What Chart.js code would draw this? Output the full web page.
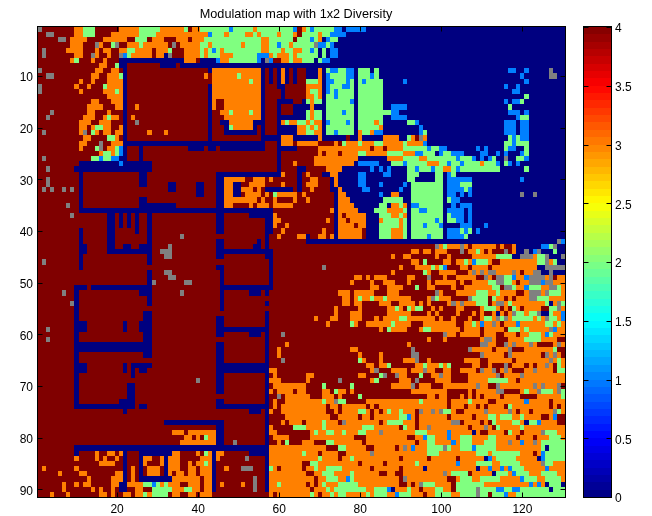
<!DOCTYPE html>
<html><head><meta charset="utf-8">
<script src="https://cdn.jsdelivr.net/npm/chart.js@4"></script>
<style>html,body{margin:0;padding:0;background:#fff}#w{position:relative;width:652px;height:516px}canvas{position:absolute;left:0;top:0}</style>
</head><body><div id="w"><canvas id="map" width="652" height="516"></canvas><canvas id="bar" width="652" height="516"></canvas></div>
<script>
const chartTitle = "Modulation map with 1x2 Diversity";
const xTicks = [20,40,60,80,100,120];
const yTicks = [10,20,30,40,50,60,70,80,90];
const barTicks = [0,0.5,1,1.5,2,2.5,3,3.5,4];
const barLabels = ["0","0.5","1","1.5","2","2.5","3","3.5","4"];
const columnCount = 130;
const letterValues = {D:4,O:3,G:2,L:1,B:0};
const noDataColor = "#808080";
// One entry per map row. Cells are 4 (D) unless a token paints a column range with another level; X = no data.
const rows = [
"X1 O10-11 G12-14 O21-25 G26-30 O31-36 G37 O39-40 G41-47 L48 G49-53 O54 G55-63 L64 O66 G67 L68 G69-73 L74-75 B76 L77-81 B82-130",
"X3-4 O10-11 G12-14 O19-25 G26-29 O30-42 L43 G44-46 O47 G48-51 O52-53 G54 O55 G56-59 O60 G61-63 O64 G66-69 O70 G71-72 L73-76 B77-130",
"X6-7 O9-12 O17-22 G25-27 O29-31 O35-37 O39-41 G42-55 O56-57 G58-63 G65-67 L68 G69 O70 B71 L72 G73-74 B75-130",
"O9-11 X15 O16 G19 X20 O23-25 G26 O27-32 X34 O36-40 G41-42 O43 G44-50 O51 G52-55 O56-57 G58-59 L60 G61-62 O63 G64-68 X69 L70-71 G72 L73 B74-130",
"X2 O8-11 O15 O17-18 O21-22 G23-24 O25-28 O30-32 G33 O37-40 G41 O42 G43 L44 G45 O46 G47-55 O56-57 G58-60 O61 G62-63 O64-65 G66-67 L68 G69 B70 G71 B72 L73-74 B75-130",
"X2 O10-11 X14 O15 O18 X21 L22 G23 O24-28 O30-31 B32 X33 O37-40 G41 O42 G43-45 O46-48 G49-54 L55-57 O58 G59 O60-62 G63 O64 G65-69 B70 G71 B72 L73-74 B75-130",
"O9 G10 O14 O17 B21-36 O37-39 B41-44 L45 O46-47 G48-54 L55 B56 X57 L58 O61-62 G63 O64-65 G66-68 B69 G70 L71-72 B73-130",
"O16-17 G20 B21-22 B31-34 B36-130",
"X1 O15-16 O19-20 B22 B43 O44-55 B56 B58 B60 O61 B62 B64 B67-130 O70 G72 L73-74 G75-76 L77-78 G80-82 G84 L117-118 L121 X127",
"X3-4 O14-15 O18-20 G21 B22 O42 O44-55 G50 B56 B58 B60 O61 B62 B64 B67-130 O70 L72 G73-76 L77-78 G80-82 L83 G84 L120 X127-128",
"O11 O14 O18-21 B22 O44-55 G53 B56 B58 B60 O61 B62 B64 B67-130 G67-69 O70 L72-73 G74-76 L77 G78 G80 L81 G82-85 L91 L121",
"X1 O10 O13 G17 O18-21 B22 B43 O44-55 B56 B60-61 B67-130 O67-70 L72 G73-75 L76-77 G78 G80-85 L116 L119",
"X1 O11 O17-19 G20 O21 B22 B43 O44-55 B56 B61 B67-130 O67 G68-69 O70 L72 G73 L74 G75-78 G80-85 L118-119",
"O18-21 B22 B43 O44-55 B56 B61 B67-130 O67-68 G69 O70 G72-73 L74 G75-78 G80-85 G121",
"O14-15 O19-21 B22 B43 O44 O47-55 B56 B60-63 B66-130 G67 O68 G69-70 G72-77 L78 G80-85 L116 L118-119 G120",
"O13-16 O20-21 B22 O25 B43 O44 O47-55 B56 B60 B64-130 O68 G72-78 G80-85 L88-91 G117",
"X4 O13-14 O18 B22 B43 O46-47 G48 O49-52 G53 O54-55 B56 B60 B64-130 G67 O68 G69-70 G72-75 L76 G77-78 G80-85 G86-87 L88-89 L117-119 L121",
"X3 O12-14 O17 G18 O19-20 B22 O24 B43 O47-55 B56 B60-130 G67 O68 G69-70 G72-78 G80-85 L88-91 L119 G120-121",
"O11-13 O16-18 B22 X25 B43 B46-47 O48-53 B54-56 B60 O61 G62 O63-64 G65-66 O67 G68 O69-70 B71 L72 G73-76 L77 G78 B79 G80-83 O84 G85 B86-130 G92-93 L94 L116-118 L120-121",
"O11-12 O14 G15-16 O17-18 O21 B22 B43 B47 G48 O49-53 B54 B56 B60-64 O65-66 G67 O68 G69 O70 B71 G72-78 B79 G80-84 O85 B86-130 L95 L116-118 L120-121",
"X2 O11 X12 G14 O15 O17-18 O20-21 B22 O28 O32 B43 B47-54 B56 B60-64 O65-66 G67-68 O69-70 B71 G72-73 L74 G75-78 B79 O80 G81-82 O83 L84-85 B86-130 L95 G96 L116-118 L120-121",
"O12-13 G18-19 O20 B22 B43 B56-60 O61-63 B64-69 O70 B71-76 B78-79 O80 B81-85 O86-89 B90-91 G92 O93 X95 O96 B97-130 G117 L118 G119 L120-121",
"O11-12 X16 O19-21 B22-56 B60 O61-63 O65-69 O74 G76 O77-79 G80 O81-83 G84-85 O86-90 G91 O92-95 L96 B97-130 G116-117 L118 G119-121",
"O11 G15 X16 O18-19 G20 L21 B22 B26 B38-41 B43-44 B46-56 B60-64 O70-82 O84-85 O87-90 G91-96 L97 G98-99 L100-101 B102-130 L109 L111 G116 L117-118 G121",
"O16 G17-18 O19 G20 L21 B22 B26 B60 O70 O72-74 O76-79 G80-81 O82-86 G87-90 O91-93 L94-95 G96-98 B99-130 L100 G101-102 L103-105 L110-111 L114 L116 L120 G121",
"X2 G14-15 L16 G17-18 L19-20 B21-22 B26 B60 O69-79 B80-86 O87-90 G91-94 O95-96 G97-103 L104 G105-107 L108 B109-130 L110 L112 G113 X116 G119-120 L121",
"B11-28 L21 B60 O64 O69-78 B79-130 L80-84 G88-90 L91 G92-96 O97-99 G100-101 L102 G103-104 L105 G106-109 O110 G111-113 L114 G116 L117 L119",
"X3 B10-28 B60 B65-66 O72-75 B76-130 L83 L85 L87 G92-93 L94 G95-97 L98 G99-100 O101-102 G103 L104 G105-114 G121",
"B11 B26-27 B45-60 O61 B65 O67 B71-72 O73-74 B75-130 L80-81 L86-87 G92-94 G99-100 L102 G103",
"X3 B11 B26-27 B45-46 O47-51 O54-56 O58 B65 O68-69 B73 O74 B75-130 L80-81 G92-93 G99-100 L102-105 L106-107 L120",
"X3 B11 B26-27 B33-34 B40-41 B45-46 O47-48 B49-50 O53-56 O61 B65 O67-69 B73 O74 B75-130 L80-81 L85 L91 G93-100 L102-104 G105-107",
"X2 X4 X7 X9 B11 B33-34 B40-41 B45-46 O47-48 B49-50 O51-53 O55 B57-63 B65 O68 B73-74 O75 B76-130 L81-82 L90 G93-100 L102-105 G106 L107",
"B11 B40-41 B45-46 O47-48 B49-50 O52-55 O57 G59 O60-64 O66 B74 O75-76 B77-130 L85 O88-89 G93-100 L102-103 L105 L107 X120 X123",
"B11 B26-27 B45-46 O47-54 O56 O59 O64 O67 B74 O75-77 B78-130 G86-90 G93-100 G102 L103-104",
"X8 B11 B26-34 B45-46 O47-48 O53 O55-57 O59-63 B74 O75-78 B79-130 G85-86 O88-89 G90 O91 L93-94 G95-100 L103 L105-107",
"B11-58 O73 B74 O75-79 B80-83 G84-86 O87-90 G91 B92 G93-94 L95-96 G97-100 B101-130 L102-105 L107",
"X9 B18-19 B21 B23 B25 B28 B45-46 B53-58 O59 B74 O75 O77-81 B82-84 G85-87 O88-89 G90 O91 B92 G93-100 B101-130 G102 L103-105 L107",
"B18-19 B21 B23 B25 B28 B45-46 B57-58 O59-60 O72 B74 O75-76 O78-81 B82-84 O85 G86-89 O90 G91 B92 G93-98 L99 G100 B101-130 G102-103 L104-105 L107",
"B18-19 B21 B23 B25 B28 B45-46 B57-58 O59 O62 B74 O75-78 O80-81 B82-84 G85-89 O90 G91 B92 G93-95 L96 G97-99 L100 B101-130 L105-107 L111",
"B11 B18-19 B25 B28 B45-46 B57-58 O61 O71 B74 O75-80 B82-84 G85-87 O88-90 G91 B92 G93-100 B101-130 L102-104 G105 L106 G107 L109",
"B11 B18-19 B28 X36 B57 O60 O65-66 B67 O70-71 O73 B74 O75-80 B82-84 G85-87 O88-90 G91 B92 G93-96 L97 G98-100 B101-130 L102-105 G106",
"B11 B18-19 B28 B45-46 B55 B57 B67-130 X129 L130",
"B11-12 B18-19 B22-23 B26-28 X33 B45-46 B54-55 B57 X99 O100 G101 O102-104 X105 O106 O108-113 O115 O118 B119-124 L125-126 G127 X128 B129-130",
"B11-12 B18-28 X31-33 B45-58 O93-94 O96-97 O99-101 X105 O107-108 G109 O110 O112 X116 O118 B119-120 X121 B122 L123 X124 B125-127 G128 B129-130",
"B11 B28 X32-33 B45-46 B57-58 O88 O91-92 O99 O102 O108-113 G114-117 B118-119 X120-122 O123 G124-125 X126 B127-129 X130",
"X2 B11 B28 B58 O93-94 G96 O101-102 O104-105 G106 O107 L108 G109-111 O112 O115-123 G124-125 X126 O127 G128 B129-130",
"B11 X71 B45-46 B58 O90 O94-97 G98 O99 G100 L101 O105-106 O108-111 O113-123 B124-125 X126-130",
"B28 X32-33 B46 B58 O88 G96 O97 O100-103 O107 X108 O109 X110 O111 X112-113 O114-117 X118 O119 O121-122 X123-124 B125-126 X127 B128-130",
"B28 X33-34 B46 B58 O79-80 O82 O84-86 O92-93 X97 O101 O104-108 X111 O112 X114-115 G116-117 L118 O119-120 L121 X122-125 O126 X127 O129-130",
"B28 X29 X37-38 B46 B58 O78 O83 O86-88 O92 O97 O99-103 O105 O108-111 G112-113 X114-115 G116-117 O118 O120-121 X122-124 L125 X126-127 O128-130",
"B10-12 B14-28 B46-58 O83-84 O87-90 G94 O97-98 O103 O106-112 G113-114 X116-117 G118 O119-120 L121 G122-124 O125-126 X127-128 G129 O130",
"X7 B10 B26-28 X36 B46 B53-55 B57 O75-77 O79-83 O87-89 X99 O100 O104-108 G109-111 O112-113 G114 O115-118 O121 X122-124 O125 X126 G127-129 O130",
"B10 B28 B46 O76-77 O79 G80 O81-82 G83 O84-85 G86 O87-92 O97 X98 G99 O100-102 X107 G108-111 G113 O114-115 O117 O119-121 X122-123 G124-126 O127-130",
"X9 B10 B28 B46 B57 O76-77 O79-80 O85-87 O90-93 O95 O97 O102 X103 O104 X105 O106-108 G109-111 O113 X114-115 O116 G117 O118-125 G126 B127 O128 X129 G130",
"B46 O74 O80 O87-88 G89 O90 G92 O93 G94-95 O98 O100 O104-105 O110 G111-113 O114 O116 G118 O119 O121-124 G127-128 X129 O130 B10",
"B27-28 B57 O74 O78-80 O87-92 O97 O99 O104 O108 O110 O113 B114 O115 O117 X118 G119-120 O121 G122-123 X124 B125-126 G127 O128-129 L130 B10",
"B10 B27-28 B45-46 B57 O69 O73-74 O78-80 O84 O86-89 G90-91 O92-98 O100 O103 O107 O110 G111-112 O113 X114 G115 X116 O117 G118-122 O123 G124 O125 X126 G127-128 O129 L130",
"B10-12 B22 B26-28 B45-46 B57 O72 G78 O79 O82-87 G88 O89-92 O96-103 O106-107 G108 O109 L110 O111-112 X113 O114 O116-118 L119 O120-125 G126-127 O128 G129 O130",
"X3 B10-12 B22 B26-28 B45-57 O85 G87 O88-91 O95 G96-97 O98-104 O106-109 O111-115 G117-119 O120 G121 O122-124 O125-126 X127 L128 O129-130",
"B10 B27-28 B45-46 B53-55 B57 X61 X101 O102-103 O105-109 O111-113 O116-118 O120-121 G122-124 O125 L126 G127 O128-130",
"X3 B10 B27-28 B57 O97 O101 O110 X111-112 O113 O117-120 G121-124 O125-128",
"B10-28 B45-46 B57 O62 O92 X110-111 O112-113 X116 O117 X118 O119-121 X122 O123 O128 X129 O130",
"B10-28 B45-46 B57 O60 O78-79 X93 X107 O108-112 O114-116 X117 O121-127 G128",
"B10 B27-28 B45-46 B57 O60 O80 O85 X93-94 X110 O111-115 X117 O118-124 X126 O127 X128 O129",
"B10 B45-46 B57 X61 G80 O81 O85 O91-93 X94 O97 O106-109 O112-117 O119-126 X127 O128 G129 O130",
"B10-12 B22 B24-28 B45-57 O82-83 O85-86 G87 O94-95 G96 O97-99 G100 O101 G102 O108-109 O112 X116 O118-120 O122 O124-125 X126 O127 G129 O130",
"B10-12 B22 B24 B26-27 B45-57 O58-59 O83 X84 O88-91 O93-95 X96 O97-98 O101-102 O105-108 X110 O111-112 X113 O115 X116 O117 O121-122 X123 O124-127 G129-130",
"B10 B24 B45-46 B57 O59 O67-68 O80-81 G85 X86 X89 O90-91 G95 O98-99 X100 O101-102 O107-113 X114 O116-119 X120 O121-130",
"B10 X40 B45-46 B57 O58-60 O67 X75 O83 G84 O90-92 X94 O99-102 O107-111 G112-116 O117-118 O120-130",
"B10 B23-24 B45-46 B57 O59-66 G71 G78 O88-92 X93 O95-97 O101-108 X109 O110-111 X114 O115-122 X123 O124 X125 O126-128 X129",
"B10 B23-24 B45-46 B57 O58 O60-63 O65-66 O71-72 G74 O75-76 O78 O93-101 O107 O109-113 X114-115 O120 G121 O122-123 X124 G125-127 O128 X129 G130",
"B10 B23-24 B57 X60 O62-67 O71-73 O75 G80 O97-98 O100-101 O105 O107 O109 O111-114 O116-119 O124-129 G130",
"B10 B21-24 B45-46 B57 O59 O62-70 G71 O72-73 X74 G75-76 O82-94 G95 O96-101 O103-106 G107 O108-111 O114-120 L121 O122-126 O128-130",
"B10-24 B26-27 B45-57 O59 O61-130 D72 D75 D82 D84 D102 D106 D109 D111 D116 G117 D127 D129",
"B22 B53-55 B57 O58 O61-130 D72-73 D75 G80-81 D83 D85 G87 G90 D94 X95 X98 X100 G101-102 D104-105 X111 X117 D119 D122 X128 G129",
"B57 O62-130 D73-74 D80 D83 G90-91 L92 D94 D102 D108 G112-113 G115-117 G120 D125-126 L128 D129-130",
"B32-46 B57 O61 O63-65 O67-130 G71 D75 X76 D85 G87-90 D94 X103-104 D105 D110 D112 G113 G118-119 B121 G122-123 L124 D129-130",
"B45-46 B57 O58 G64-66 O67-130 G71 G81-83 D90 G91 D94 X97 D107 X111 D113 G114 G120",
"O34-36 O38-44 B45-46 B57 O58-59 O68-130 G69 G72-73 G76 G80-81 X85 G94-96 L102 B108 D110-111 D116 G117 D120 X125 G126-128",
"O37-38 O40 G42 O43-44 B45-46 B57 O59-62 O68-130 D79-81 D92-93 L96 G97-98 L102 G105-107 G112-113 D119 D123 G127-129",
"O36-44 B45-46 X49 B57 O60 G62 O66-130 D69-71 G72-73 D81 D94 G97-98 L103 G105-107 G111-113 X117 L120 X123 G125-130",
"B10-57 O58-130 D72-74 G75-76 D82-83 D89 X91 L93 G97-100 X101 G102 G105-107 L108 G109-113 G125 B126 G127-130",
"B10 O15 O18-19 O21 B22 B26-33 O34-35 O40 G42 O43 B44 O45-46 B53-57 O58-130 G66 D70 D75-76 X83 G97-99 G109-111 G113-119 D123 L125 G126-130",
"O10 O15 O17 O20 B22 B26 O27-28 O31 B32 O33-35 O41-43 B44 O45 X52 B57 O58-130 G70 D75 G78 D90 D97 D104 B111 L112 G114-118 B124 L125 G126-130",
"O16-19 B22 B26 O27 O31 B32 O33-35 O38 O40-43 G42 B44 B57 O58-130 D66-67 G68-69 D80 D86 G94 L104 G109-112 G115-119 X125 G126-127",
"O2 O10 B22 O24 B26 O28-30 B32 O33-35 O38-39 O41-43 B44 O47 X51-53 B57 G58 O59 O61-130 D66 G69 G72-75 D83 D90 B96 B109 L112 L115 L117 G118-120 L126",
"O6 O11-12 O20-21 B22 O24 B26 O28-30 B32 O33 O35-36 O38-39 O41-43 B44 B57 O58-130 D67-68 G71-73 G78 D85-86 D89-90 X101 G103-106 D107 B113 G114-116 L118 G119-121 G125-128",
"O13 O19-21 B22 O24 B26-33 O34-40 O42-43 B44 X54 B57 O58-130 D69 G72-74 L77 G78 D90 X91 D102-103 G105-107 G110-114 L120 G121-123 G126-129",
"O7 O10 O12-13 O19-20 B21-22 O23-26 G27-28 L29 G30 O31 G32 O33-35 O38-40 O42-43 B44 O46 O51 X54 B57 O58-130 G60 D67 D69 G71 G75-79 D90-91 D93 X95 G96-98 D103 G104-110 L122 L124 B126 G127-129 B130",
"O7 O14 O16 O19 B21-22 O25-26 G29-33 O34-36 G37-38 O39-40 O42-43 B44 X54 B57 O58-130 D68 G72 G74-81 G84-86 L87 B88 G92 D95 G99-100 D103 G104-108 X109 G110-113 L114-115 G116-117 L118-119 G120-126 B127 G128-130",
"O4 O8 O16-17 O19 O22-23 O25-26 G27 O28 G29-32 O34-35 O38-39 O41-43 O58 O60-130 G68 D70 G73 G75-76 G82 G84-86 L89 G90-92 D96 G99-102 G105-108 X109 G110-111 D112 G113-115 L116 G119-130"
];
const levelCodes = ["B","L","G","O","D"];
function expandRow(str){
  const a = new Array(columnCount).fill("D");
  str.split(" ").forEach(t=>{
    const m = t.match(/^([A-Z])(\d+)(?:-(\d+))?$/); if(!m) return;
    const s=+m[2], e=m[3]?+m[3]:s;
    for(let c=s;c<=e;c++) a[c-1]=m[1];
  });
  return a;
}
function jet(t){
  const c=x=>Math.round(255*Math.max(0,Math.min(1,x)));
  const r=1.5-Math.abs(4*t-3), g=1.5-Math.abs(4*t-2), b=1.5-Math.abs(4*t-1);
  return `rgb(${c(r)},${c(g)},${c(b)})`;
}
const grid = rows.map(expandRow);
function pointsFor(code){
  const pts=[];
  grid.forEach((row,r)=>row.forEach((v,c)=>{ if(v===code) pts.push({x:c+1,y:r+1}); }));
  return pts;
}
const mapSets = levelCodes.map(code=>({label:String(letterValues[code]),data:pointsFor(code),cellColor:jet(letterValues[code]/4),pointRadius:0}));
mapSets.push({label:"no data",data:pointsFor("X"),cellColor:noDataColor,pointRadius:0});

const cellPlugin = {
  id:"cells",
  afterDatasetsDraw(chart){
    const {ctx,scales:{x,y}} = chart;
    const stepX = Math.abs(x.getPixelForValue(1)-x.getPixelForValue(0))*chart.options.cellW;
    const stepY = Math.abs(y.getPixelForValue(1)-y.getPixelForValue(0))*chart.options.cellH;
    ctx.save();
    chart.data.datasets.forEach((d,i)=>{
      ctx.fillStyle=d.cellColor;
      chart.getDatasetMeta(i).data.forEach(p=>{
        const l=Math.round(p.x-stepX/2), r=Math.round(p.x+stepX/2), t=Math.round(p.y-stepY/2), b=Math.round(p.y+stepY/2);
        ctx.fillRect(l,t,r-l,b-t);
      });
    });
    const a=chart.chartArea, L=Math.round(a.left)-0.5, R=Math.round(a.right)+0.5, T=Math.round(a.top)-0.5, B=Math.round(a.bottom)+0.5;
    ctx.strokeStyle="#000"; ctx.lineWidth=1;
    ctx.strokeRect(L,T,R-L,B-T);
    const tl=chart.options.tickLen;
    ctx.beginPath();
    if(chart.options.xInner) x.ticks.forEach(tk=>{const px=Math.round(x.getPixelForValue(tk.value))+0.5;ctx.moveTo(px,T);ctx.lineTo(px,T+tl);ctx.moveTo(px,B);ctx.lineTo(px,B-tl);});
    y.ticks.forEach(tk=>{const py=Math.round(y.getPixelForValue(tk.value))+0.5;ctx.moveTo(L,py);ctx.lineTo(L+tl,py);ctx.moveTo(R,py);ctx.lineTo(R-tl,py);});
    ctx.stroke();
    if(chart.options.titleText){
      ctx.fillStyle="#000";ctx.font="12.7px 'Liberation Sans',Arial,sans-serif";ctx.textAlign="center";ctx.textBaseline="middle";
      ctx.fillText(chart.options.titleText,296,14);
    }
    ctx.restore();
  }
};
const font={family:"'Liberation Sans',Arial,sans-serif",size:12};
Chart.defaults.animation=false;
new Chart(document.getElementById("map"),{
  type:"scatter",
  data:{datasets:mapSets},
  plugins:[cellPlugin],
  options:{
    responsive:false,animation:false,parsing:false,normalized:true,events:[],
    cellW:1,cellH:1,tickLen:5,xInner:true,titleText:chartTitle,
    layout:{padding:{left:0,right:87,top:27,bottom:0}},
    plugins:{legend:{display:false},tooltip:{enabled:false},title:{display:false}},
    scales:{
      x:{type:"linear",min:0.5,max:130.5,grid:{display:false,drawTicks:false},border:{display:false},
        afterBuildTicks:s=>{s.ticks=xTicks.map(v=>({value:v}));},
        afterFit:s=>{s.height=19;},
        ticks:{color:"#000",font,autoSkip:false,maxRotation:0,padding:5,callback:v=>String(v)}},
      y:{type:"linear",reverse:true,min:0.5,max:91.5,grid:{display:false,drawTicks:false},border:{display:false},
        afterBuildTicks:s=>{s.ticks=yTicks.map(v=>({value:v}));},
        afterFit:s=>{s.width=38;},
        ticks:{color:"#000",font,autoSkip:false,padding:5,labelOffset:2,callback:v=>String(v)}}
    }
  }
});
const barSets=[];
for(let i=0;i<64;i++){ barSets.push({data:[{x:0.5,y:(i+0.5)/16}],cellColor:jet((i+0.5)/64),pointRadius:0}); }
new Chart(document.getElementById("bar"),{
  type:"scatter",
  data:{datasets:barSets},
  plugins:[cellPlugin],
  options:{
    responsive:false,animation:false,events:[],
    cellW:1,cellH:0.0625,tickLen:5,xInner:false,
    layout:{padding:{left:584,right:0,top:27,bottom:19}},
    plugins:{legend:{display:false},tooltip:{enabled:false},title:{display:false}},
    scales:{
      x:{type:"linear",min:0,max:1,display:false},
      y:{type:"linear",position:"right",min:0,max:4,grid:{display:false,drawTicks:false},border:{display:false},
        afterBuildTicks:s=>{s.ticks=barTicks.map(v=>({value:v}));},
        afterFit:s=>{s.width=41;},
        ticks:{color:"#000",font,autoSkip:false,padding:4,labelOffset:2,callback:v=>barLabels[barTicks.indexOf(v)]}}
    }
  }
});
</script>
</body></html>
